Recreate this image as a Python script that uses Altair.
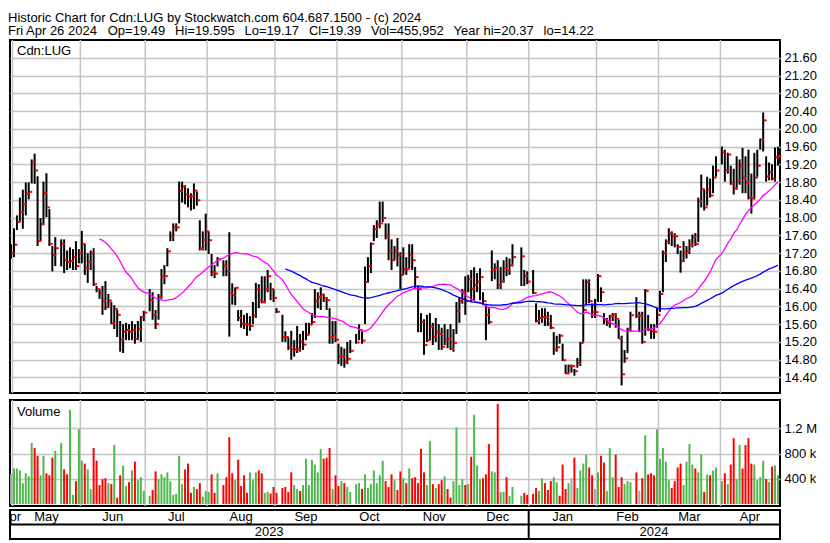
import altair as alt
import pandas as pd
import numpy as np

FONT = "Liberation Sans"
TITLE_1 = "Historic Chart for Cdn:LUG by Stockwatch.com 604.687.1500 - (c) 2024"
TITLE_2 = ("Fri Apr 26 2024\u00a0\u00a0\u00a0Op=19.49\u00a0\u00a0\u2009Hi=19.595\u00a0\u00a0\u2009Lo=19.17"
           "\u00a0\u00a0\u2009Cl=19.39\u00a0\u00a0\u2009Vol=455,952\u00a0\u00a0\u2009Year hi=20.37\u00a0\u00a0\u2009lo=14.22")
SYMBOL = "Cdn:LUG"
VOLUME_LABEL = "Volume"
FIRST_DAY, LAST_DAY = "2023-04-28", "2024-04-26"
N = None  # market holiday / no trade

high = [17.40, 17.76, 18.05, 18.45, 18.63, 18.79, 18.79, 19.31, 19.44, 18.93, 17.99, 18.81, 19.00, 18.19, 17.36, 17.56,
        N,
        17.51, 17.51, 17.26, 17.33, 17.29, 17.47, 17.29, 17.70, 17.40, 17.20, 17.26, 17.31, 16.46, 16.39, 16.46, 16.57,
        16.28, 16.10, 16.03, 15.92, 15.67, 15.60, 15.63, 15.60, 15.67, 15.60, 15.67, 15.78, 15.90,
        N,
        16.39, 16.32, 15.92, 16.28, 16.84, 16.93, 17.31, 17.69, 17.87, 17.87, 18.81, 18.81, 18.73, 18.66, 18.55, 18.77,
        18.59, 17.94, 17.69, 18.09, 17.69, 17.18, 16.93, 17.11,
        N,
        17.04, 17.04, 17.67, 16.52, 16.43, 15.92, 15.92, 15.81, 15.85, 15.78, 16.10, 16.53, 16.50, 16.68, 16.68, 16.82,
        16.53, 16.39, 15.96,
        N,
        15.81, 15.44, 15.31, 15.45, 15.24, 15.56, 15.38, 15.45, 15.63, 15.63, 15.85, 16.39, 16.32, 16.43, 16.28, 16.21,
        15.96, 15.67, 15.67, 15.16, 15.09, 15.05, 15.20, 15.24,
        N,
        15.38, 15.60, 15.45, 16.90, 17.11, 17.44, 17.83, 17.94, 18.36, 18.36, 17.87, 17.87, 17.51, 17.36, 17.54, 17.22,
        17.33, 17.11, 17.40, 17.40, 16.89, 16.46, 15.85, 15.71, 15.81, 15.85, 15.63, 15.74, 15.60, 15.52, 15.60, 15.49,
        15.60, 15.49, 16.10, 16.21, 16.39, 16.68, 16.71, 16.82, 16.88, 16.75, 16.86, 16.32, 16.03, 15.96, 17.26, 16.97,
        17.04, 16.89, 17.04, 17.11, 17.08, 17.40,
        N, N,
        17.33, 16.82, 16.79,
        N,
        16.82, 16.07, 15.92, 15.96, 15.96, 15.88, 15.81, 15.42, 15.34, 15.38, 15.16, 14.69, 14.69, 14.69, 14.59, 14.84,
        15.20, 16.61, 16.61, 16.61, 16.07, 16.17, 16.73, 16.43, 15.85, 15.74, 15.81, 15.85, 15.85, 15.70, 15.34, 15.02,
        15.52, 15.88,
        N,
        16.21, 15.88, 15.88, 16.39, 15.81, 15.60, 15.60, 15.96, 16.35, 17.26, 17.51, 17.76, 17.69, 17.65, 17.40, 17.26,
        17.47, 17.36, 17.51, 17.62, 17.65,
        18.45, 18.97, 18.63, 18.92, 18.88, 19.17, 19.38,
        N,
        19.60, 19.53, 19.46, 19.17, 19.10, 19.38, 19.31, 19.57, 19.38, 19.53, 18.99, 19.46, 19.53, 19.78, 20.37, 19.38,
        19.24, 19.20, 19.58, 19.595]

low = [17.08, 17.11, 17.72, 17.91, 17.75, 18.05, 18.41, 18.77, 18.76, 17.36, 17.47, 17.83, 18.01, 17.36, 16.79, 16.91,
       N,
       16.90, 16.75, 16.82, 16.86, 16.82, 16.82, 16.97, 16.97, 16.71, 16.53, 16.82, 16.46, 16.32, 16.17, 15.81, 15.92,
       15.96, 15.60, 15.49, 15.31, 14.98, 14.95, 15.24, 15.24, 15.24, 15.16, 15.24, 15.20, 15.67,
       N,
       15.89, 15.70, 15.49, 15.70, 16.17, 16.50, 16.90, 17.47, 17.47, 17.69, 17.87, 18.34, 18.30, 18.23, 18.16, 18.19,
       18.27, 17.26, 17.26, 17.26, 17.18, 16.68, 16.64, 16.90,
       N,
       16.68, 16.68, 15.32, 16.04, 16.03, 15.67, 15.52, 15.49, 15.34, 15.45, 15.60, 15.74, 15.96, 16.07, 16.07, 16.32,
       16.14, 16.10, 15.85,
       N,
       15.20, 15.20, 15.02, 14.80, 14.87, 14.95, 14.98, 15.02, 15.24, 15.38, 15.60, 15.74, 15.96, 15.92, 16.10, 15.92,
       15.16, 15.16, 15.20, 14.70, 14.66, 14.62, 14.70, 14.95,
       N,
       15.16, 15.24, 15.16, 15.60, 16.53, 16.75, 17.47, 17.54, 17.76, 17.90, 17.51, 17.04, 16.82, 17.04, 16.90, 16.39,
       16.71, 16.71, 16.86, 16.82, 16.39, 15.42, 15.42, 14.91, 15.20, 15.24, 15.13, 15.20, 15.02, 15.02, 15.13, 15.06,
       15.02, 14.98, 15.38, 15.63, 16.06, 15.81, 16.32, 16.10, 16.14, 16.32, 16.14, 16.03, 15.24, 15.60, 16.57, 16.61,
       16.39, 16.39, 16.53, 16.68, 16.71, 16.90,
       N, N,
       16.46, 16.46, 16.50,
       N,
       16.28, 15.64, 15.60, 15.63, 15.56, 15.56, 15.49, 14.91, 14.98, 15.16, 14.77, 14.48, 14.48, 14.51, 14.44, 14.62,
       14.66, 15.20, 16.03, 16.07, 15.74, 15.74, 16.10, 16.10, 15.60, 15.56, 15.52, 15.67, 15.52, 15.27, 14.22, 14.73,
       14.95, 15.45,
       N,
       15.74, 15.42, 15.16, 15.34, 15.45, 15.27, 15.27, 15.52, 15.88, 16.32, 17.00, 17.40, 17.36, 17.33, 17.18, 16.76,
       17.00, 17.08, 17.18, 17.33, 17.36,
       17.45, 18.23, 18.16, 18.27, 18.45, 18.55, 18.92,
       N,
       19.20, 18.81, 18.99, 18.74, 18.52, 18.63, 18.74, 18.55, 18.55, 18.41, 18.09, 18.41, 18.92, 19.53, 19.49, 18.81,
       18.84, 18.84, 18.81, 19.17]

close = [17.20, 17.39, 17.90, 18.12, 18.30, 18.54, 18.58, 19.25, 19.06, 17.47, 17.85, 18.55, 18.23, 17.41, 17.15, 17.31,
         N,
         17.41, 17.04, 17.00, 17.02, 17.11, 16.91, 17.20, 17.41, 16.87, 17.00, 17.20, 16.50, 16.39, 16.30, 16.12, 15.99,
         16.13, 15.62, 15.94, 15.81, 15.25, 15.43, 15.47, 15.43, 15.47, 15.27, 15.49, 15.76, 15.86,
         N,
         16.14, 15.81, 15.60, 16.21, 16.66, 16.68, 17.24, 17.57, 17.78, 17.78, 18.60, 18.70, 18.52, 18.48, 18.48, 18.61,
         18.39, 17.31, 17.50, 17.69, 17.49, 16.77, 16.74, 17.06,
         N,
         16.92, 16.79, 16.30, 16.25, 16.42, 15.74, 15.62, 15.60, 15.60, 15.56, 15.80, 16.39, 16.14, 16.10, 16.39, 16.68,
         16.39, 16.19, 15.88,
         N,
         15.31, 15.31, 15.08, 15.03, 15.03, 15.03, 15.21, 15.14, 15.36, 15.59, 15.65, 16.12, 16.21, 16.27, 16.19, 16.14,
         15.31, 15.34, 15.25, 14.87, 14.87, 14.75, 14.82, 15.00,
         N,
         15.19, 15.47, 15.23, 16.55, 16.91, 17.41, 17.74, 17.85, 17.87, 17.99, 17.59, 17.26, 17.04, 17.26, 17.15, 16.71,
         16.84, 16.84, 17.15, 17.04, 16.66, 16.39, 15.65, 15.13, 15.24, 15.55, 15.31, 15.42, 15.38, 15.09, 15.24, 15.27,
         15.05, 15.18, 15.90, 16.12, 16.32, 16.12, 16.61, 16.39, 16.48, 16.56, 16.66, 16.12, 15.81, 15.65, 16.82, 16.86,
         16.48, 16.57, 16.86, 16.81, 16.93, 17.11,
         N, N,
         17.13, 16.68, 16.56,
         N,
         16.30, 15.67, 15.74, 15.76, 15.76, 15.61, 15.52, 15.03, 15.08, 15.34, 14.79, 14.49, 14.66, 14.66, 14.54, 14.72,
         15.18, 15.92, 16.55, 16.12, 15.87, 15.87, 16.68, 16.32, 15.70, 15.63, 15.79, 15.81, 15.72, 15.27, 14.47, 14.83,
         15.48, 15.80,
         N,
         15.79, 15.79, 15.20, 16.35, 15.47, 15.44, 15.43, 15.81, 16.28, 17.20, 17.46, 17.65, 17.59, 17.58, 17.34, 17.02,
         17.20, 17.24, 17.39, 17.56, 17.41,
         18.37, 18.64, 18.23, 18.63, 18.50, 18.90, 19.06,
         N,
         19.47, 19.07, 19.42, 18.76, 18.66, 18.84, 19.17, 18.89, 18.79, 18.45, 18.43, 18.90, 19.17, 19.76, 20.19, 18.93,
         19.02, 18.88, 19.36, 19.39]

volume_k = [477, 565, 565, 534, 333, 488, 441, 968, 890, 766, 457, 766, 488, 457, 735, 844,
            N,
            968, 550, 472, 1494, 147, 364, 1184, 689, 642, 550, 240, 890, 689, 302, 395, 410, 333, 317, 937, 101,
            457, 611, 286, 348, 534, 673, 379, 426, 209,
            N,
            132, 224, 519, 395, 472, 426, 503, 364, 147, 163, 766, 317, 550, 642, 178, 271, 240, 333, 116, 209, 193,
            472, 178, 488,
            N,
            302, 426, 1060, 488, 379, 704, 286, 457, 178, 503, 379, 503, 534, 488, 178, 193, 168, 271, 178,
            N,
            255, 271, 193, 503, 302, 240, 209, 302, 720, 302, 704, 627, 503, 875, 720, 735, 890, 240, 457, 286, 364,
            333, 271, 193,
            N,
            317, 333, 240, 472, 255, 317, 534, 333, 457, 689, 364, 271, 472, 379, 224, 519, 410, 333, 565, 410, 426,
            333, 875, 503, 302, 999, 317, 255, 317, 379, 441, 240, 101, 364, 1215, 302, 395, 302, 317, 751, 1416, 611,
            395, 410, 472, 952, 519, 503, 1587, 193, 193, 426, 132, 271,
            N, N,
            132, 178, 147,
            N,
            163, 255, 209, 410, 333, 224, 364, 426, 348, 132, 627, 240, 333, 410, 735, 255, 534, 642, 782, 580, 457,
            240, 503, 766, 658, 209, 890, 426, 782, 271, 426, 317, 364, 348,
            N,
            503, 209, 410, 1091, 472, 488, 457, 1184, 720, 890, 673, 379, 255, 364, 580, 642, 302, 673, 952, 627, 565,
            503, 782, 193, 472, 457, 534, 580,
            N,
            364, 488, 317, 627, 1045, 395, 937, 565, 937, 1045, 642, 627, 379, 426, 689, 395, 348, 596, 611, 457]

# g = up day, r = down day, n = unchanged, - = no trading
volume_dir = ("n g g g g g g g r r g g r r r g - "
              "g r r g g r g g r g g r r r r r g r g r r g g r g r g g g - "
              "g r r g g g g g g g g g r r r g r r g g g r r g - "
              "r r r r g r r r r g g g r r g g r r r - "
              "r r r r g g r g g g g g g g r r r g r r g r g g - "
              "g g r g g g g g g g r r r g r r g r g r r r r r g g r g r r g r r g g g g r g r g g g r r r g g r g g r g g - - "
              "g r r - "
              "r r g g r r r g g r r r g n r g g g g r r n g r r g g g r r r g g g - "
              "r n r g r r r g g g g g r r r r g g g g r "
              "g g r g r g g - "
              "g r g r r g g r r r r g g g g r g r g g").split()

PRICE_TICKS = [round(14.4 + 0.4 * k, 2) for k in range(19)]
VOLUME_TICKS = [400000, 800000, 1200000]

GREEN, RED, GREY = "#4db84d", "#ff0000", "#a8a8a8"
GRID = "#c4c4c4"
W, H_PRICE, H_VOL, H_CAL = 770, 353, 106, 29

# ---------------------------------------------------------------- data frames
dates = pd.bdate_range(FIRST_DAY, LAST_DAY)
n = len(dates)
df = pd.DataFrame({
    "slot": np.arange(n),
    "high": high,
    "low": low,
    "close": close,
    "vol": [v * 1000 if v is not None else None for v in volume_k],
    "dir": volume_dir,
})
trades = df.dropna(subset=["close"]).copy()
trades["ma30"] = trades["close"].rolling(30).mean()
trades["ma90"] = trades["close"].rolling(90).mean()
ma30 = trades.dropna(subset=["ma30"])
ma90 = trades.dropna(subset=["ma90"])

cal = pd.DataFrame({"slot": np.arange(n),
                    "ym": [d.strftime("%Y-%m") for d in dates],
                    "mon": [d.strftime("%b") for d in dates],
                    "yr": [str(d.year) for d in dates]})
months = cal.groupby(["ym", "mon"])["slot"].agg(["min", "max"]).reset_index()
months["center"] = (months["min"] + months["max"]) / 2
months["edge"] = months["min"] - 0.5
months = months.rename(columns={"mon": "label"})[["label", "center", "edge", "min"]]
month_edges = months[months["min"] > 0]

years = cal.groupby("yr")["slot"].agg(["min", "max"]).reset_index()
years["center"] = (years["min"] + years["max"]) / 2
years["edge"] = years["min"] - 0.5
years = years.rename(columns={"yr": "label"})[["label", "center", "edge", "min"]]
year_edges = years[years["min"] > 0]

xs = alt.Scale(domain=[-0.35, n - 0.3], nice=False, zero=False)
ys_price = alt.Scale(domain=[14.05, 22.0], nice=False, zero=False)
ys_vol = alt.Scale(domain=[-30000, 1650000], nice=False, zero=False)
ys_cal = alt.Scale(domain=[0, 2], nice=False, zero=False)

price_axis = alt.Axis(orient="right", values=PRICE_TICKS, format=".2f", title=None, grid=True)
vol_axis = alt.Axis(orient="right", values=VOLUME_TICKS, title=None, grid=True,
                    labelExpr="datum.value >= 1000000 ? format(datum.value / 1000000, '.1f') + ' M' : "
                              "format(datum.value / 1000, 'd') + ' k'")


def X(f):
    return alt.X(f, type="quantitative", scale=xs, axis=None)


# ---------------------------------------------------------------- price panel
vgrid_p = alt.Chart(month_edges).mark_rule(color=GRID, strokeWidth=1.5).encode(x=X("edge"))
hl = alt.Chart(trades).mark_rule(color="black", strokeWidth=2).encode(
    x=X("slot"),
    y=alt.Y("low:Q", scale=ys_price, axis=price_axis),
    y2="high:Q",
)
cl_tick = alt.Chart(trades).mark_tick(color=RED, orient="horizontal", size=3, thickness=2, xOffset=2,
                                      opacity=1).encode(
    x=X("slot"),
    y=alt.Y("close:Q", scale=ys_price, axis=price_axis),
)
line30 = alt.Chart(ma30).mark_line(color="#ff00ff", strokeWidth=1.3).encode(
    x=X("slot"), y=alt.Y("ma30:Q", scale=ys_price, axis=price_axis))
line90 = alt.Chart(ma90).mark_line(color="#0000ff", strokeWidth=1.3).encode(
    x=X("slot"), y=alt.Y("ma90:Q", scale=ys_price, axis=price_axis))
sym = alt.Chart(pd.DataFrame({"t": [SYMBOL]})).mark_text(
    align="left", baseline="alphabetic", font=FONT, fontSize=13, color="black").encode(
    x=alt.value(7), y=alt.value(15), text="t:N")
price = alt.layer(vgrid_p, hl, cl_tick, line30, line90, sym).properties(width=W, height=H_PRICE)

# ---------------------------------------------------------------- volume panel
vgrid_v = alt.Chart(month_edges).mark_rule(color=GRID, strokeWidth=1.5).encode(x=X("edge"))
vbars = alt.Chart(df.dropna(subset=["vol"])).mark_rule(strokeWidth=2).encode(
    x=X("slot"),
    y=alt.Y("vol:Q", scale=ys_vol, axis=vol_axis),
    y2=alt.datum(0),
    color=alt.Color("dir:N", scale=alt.Scale(domain=["g", "r", "n"], range=[GREEN, RED, GREY]), legend=None),
)
vlab = alt.Chart(pd.DataFrame({"t": [VOLUME_LABEL]})).mark_text(
    align="left", baseline="alphabetic", font=FONT, fontSize=13, color="black").encode(
    x=alt.value(7), y=alt.value(16), text="t:N")
volume = alt.layer(vgrid_v, vbars, vlab).properties(width=W, height=H_VOL)

# ---------------------------------------------------------------- calendar strip
sep = alt.Chart(pd.DataFrame({"r": [1]})).mark_rule(color="black", strokeWidth=2).encode(
    y=alt.Y("r:Q", scale=ys_cal, axis=None))
yedge = alt.Chart(year_edges).mark_rule(color="black", strokeWidth=2).encode(x=X("edge"))
mtext = alt.Chart(months.assign(row=1.5)).mark_text(
    font=FONT, fontSize=13, color="black", baseline="middle", align="center", clip=True).encode(
    x=X("center"), y=alt.Y("row:Q", scale=ys_cal, axis=None), text="label:N")
ytext = alt.Chart(years.assign(row=0.5)).mark_text(
    font=FONT, fontSize=13, color="black", baseline="middle", align="center", clip=True).encode(
    x=X("center"), y=alt.Y("row:Q", scale=ys_cal, axis=None), text="label:N")
calendar = alt.layer(sep, yedge, mtext, ytext).properties(width=W, height=H_CAL)

top = alt.vconcat(price, volume, spacing=3)
chart = alt.vconcat(top, calendar, spacing=0).properties(
    title=alt.TitleParams(text=[TITLE_1, TITLE_2], anchor="start", font=FONT, fontSize=13,
                          fontWeight="normal", color="black", lineHeight=13.5, offset=0),
    padding={"top": 3, "left": 0, "right": 0, "bottom": 0},
).configure_view(
    stroke="black", strokeWidth=2
).configure_axis(
    labelFont=FONT, labelFontSize=13, labelColor="black", gridColor=GRID, gridWidth=1.5,
    domain=False, ticks=False, labelPadding=4, labelFlush=False, labelOverlap=False
)

chart.save("out.html", embed_options={"renderer": "svg", "actions": False})
